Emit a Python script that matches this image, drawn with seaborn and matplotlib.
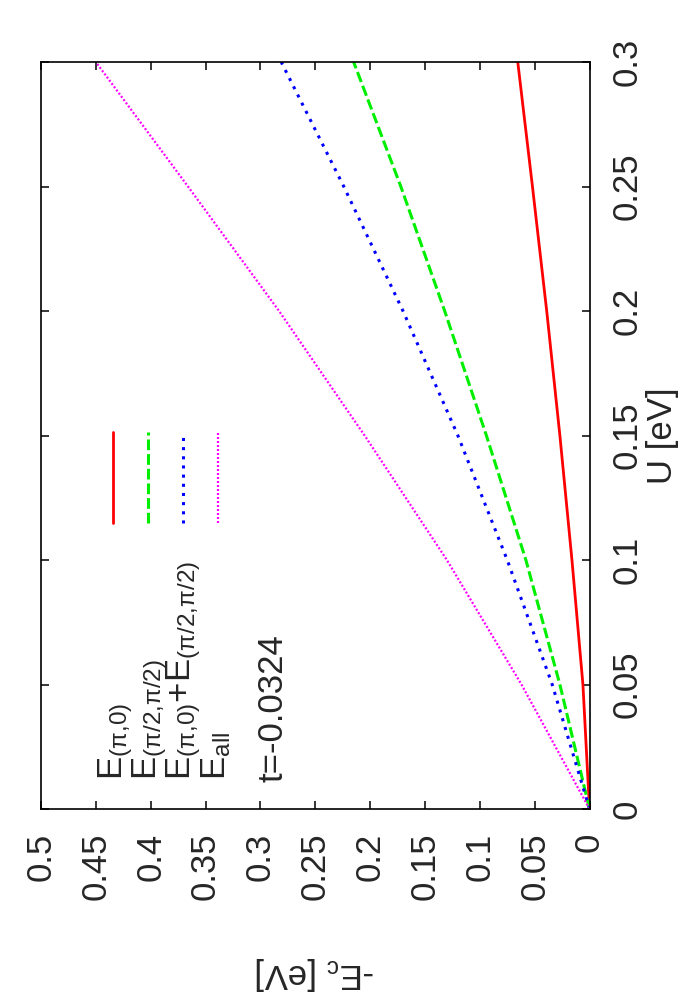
import matplotlib
matplotlib.use("Agg")
import matplotlib.pyplot as plt
import pandas as pd
import seaborn as sns

sns.set_theme(style="ticks", context="notebook")
plt.rcParams["font.family"] = ["Liberation Sans", "DejaVu Sans"]
plt.rcParams["mathtext.default"] = "regular"

# values (U in eV, -E_c in eV)
U = [0.0, 0.05, 0.1, 0.15, 0.2, 0.25, 0.3]
E_pi0 = [0.0, 0.006, 0.016, 0.027, 0.039, 0.052, 0.0654]
E_pi2 = [0.0, 0.027, 0.058, 0.094, 0.132, 0.172, 0.215]
E_sum = [0.0, 0.034, 0.075, 0.120, 0.170, 0.224, 0.281]
E_all = [0.0, 0.062, 0.130, 0.205, 0.283, 0.366, 0.450]

series_names = [
    "E$_{(π{,}0)}$",
    "E$_{(π/2{,}π/2)}$",
    "E$_{(π{,}0)}$+E$_{(π/2{,}π/2)}$",
    "E$_{all}$",
]
series_values = [E_pi0, E_pi2, E_sum, E_all]
colors = ["#ff0000", "#00ee00", "#0000ff", "#ff00ff"]
styles = [
    dict(lw=2.0, linestyle="-"),
    dict(lw=2.2, linestyle=(0, (3.5, 1.3))),
    dict(lw=2.2, linestyle=(0, (1, 2))),
    dict(lw=1.6, linestyle=(0, (0.9, 0.9))),
]

E_ticks = [0.5, 0.45, 0.4, 0.35, 0.3, 0.25, 0.2, 0.15, 0.1, 0.05, 0.0]
E_ticklabels = ["0.5", "0.45", "0.4", "0.35", "0.3", "0.25", "0.2", "0.15", "0.1", "0.05", "0"]
U_ticks = [0.0, 0.05, 0.1, 0.15, 0.2, 0.25, 0.3]
U_ticklabels = ["0", "0.05", "0.1", "0.15", "0.2", "0.25", "0.3"]

FS = 25

fig = plt.figure(figsize=(7, 10), dpi=100)
ax = fig.add_axes([41 / 700, 1 - 809 / 1000, 548.5 / 700, 747 / 1000])

for name, vals, c, st in zip(series_names, series_values, colors, styles):
    df = pd.DataFrame({"E": vals, "U": U})
    sns.lineplot(data=df, x="E", y="U", ax=ax, color=c, sort=False, **st)

# rotated key, drawn by hand
key_x = [0.1313, 0.195, 0.259, 0.3227]
text_x = [0.1477, 0.2097, 0.2717, 0.3355]
for name, c, st, kx, tx in zip(series_names, colors, styles, key_x, text_x):
    ax.plot([kx, kx], [0.383, 0.5047], transform=ax.transAxes, color=c, **st)
    ax.text(tx, 0.0388, name, transform=ax.transAxes, rotation=90,
            rotation_mode="anchor", ha="left", va="baseline", fontsize=FS)
ax.text(0.4412, 0.036, "t=-0.0324", transform=ax.transAxes, rotation=90,
        rotation_mode="anchor", ha="left", va="baseline", fontsize=FS)

ax.set_xlim(0.5, 0)
ax.set_ylim(0, 0.3)
ax.set_xticks(E_ticks, E_ticklabels)
ax.set_yticks(U_ticks, U_ticklabels)
ax.tick_params(direction="in", length=6, width=1.1, color="black",
               top=True, right=True, left=True, bottom=True,
               labelleft=False, labelright=True, labelsize=FS, pad=15)
ax.tick_params(axis="x", labelrotation=90, pad=17)
ax.tick_params(axis="y", labelrotation=90)
for lab in ax.get_yticklabels():
    lab.set_va("center")

ax.yaxis.set_label_position("right")
ax.set_ylabel("U [eV]", rotation=90, fontsize=FS, labelpad=2)
ax.set_xlabel("-E$_c$ [eV]", rotation=180, fontsize=FS)
ax.xaxis.set_label_coords(0.5, -0.196)

for sp in ax.spines.values():
    sp.set_color("black")
    sp.set_linewidth(1.2)

fig.savefig("out.png", dpi=100)
